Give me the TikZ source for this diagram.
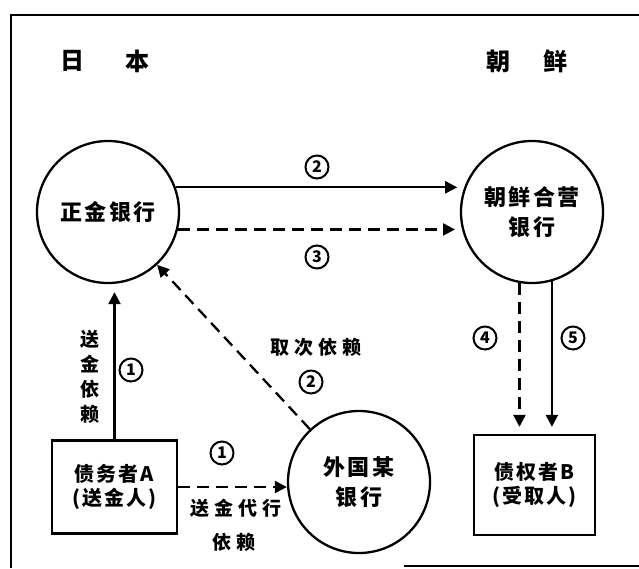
\documentclass[tikz,border=0pt]{standalone}
\usepackage{fontspec}
\setmainfont{Noto Sans CJK SC}
\usetikzlibrary{arrows.meta}
\newcommand{\fz}[2]{\fontsize{#1}{#2}\selectfont\bfseries}
\begin{document}
\begin{tikzpicture}[x=1pt,y=-1pt,line width=2.3pt,
  circ/.style={circle,draw,minimum size=142pt,inner sep=0pt,align=center,
    font=\fz{22}{30}\addfontfeatures{LetterSpace=12}},
  bx/.style={draw,inner sep=0pt,align=center,
    font=\fz{20}{24}\addfontfeatures{LetterSpace=10}},
  lbl/.style={inner sep=0pt,align=center,font=\fz{19}{25}\addfontfeatures{LetterSpace=28}},
  ttl/.style={inner sep=0pt,font=\fz{24}{24}},
  num/.style={circle,draw,line width=2pt,minimum size=23pt,inner sep=0pt,font=\fz{16}{16}},
  arr/.style={-{Triangle[length=12pt,width=12pt]}},
  dsh/.style={arr,dash pattern=on 12pt off 7pt}]
\useasboundingbox (0,0) rectangle (639,568);
% frame
\draw (639,15) -- (11,15) -- (11,568);
\draw (404,566) -- (639,566);
% titles
\node[ttl] (t1) at (72,61) {日};
\node[ttl] (t2) at (137,61) {本};
\node[ttl] (t3) at (498,61) {朝};
\node[ttl] (t4) at (555,61) {鲜};
% main nodes
\node[circ] (zj) at (108,212) {正金银行};
\node[circ] (cx) at (532,212) {朝鲜合营\\银行};
\node[circ] (wg) at (359,482) {外国某\\银行};
\node[bx,minimum width=125pt,minimum height=93pt] (A) at (114.5,487) {债务者A\\(送金人)};
\node[bx,minimum width=121pt,minimum height=100pt] (B) at (534.5,485) {债权者B\\(受取人)};
% connectors
\draw[arr,shorten >=7pt] (zj.20) -- (cx.160);
\draw[dsh,shorten >=7pt] (zj.-14) -- (cx.194);
\draw[arr,shorten >=8pt] (A.north) -- (A.north |- zj.south);
\draw[dsh] (A.east) -- (A.east -| wg.west);
\draw[dsh] (wg) -- (zj);
\draw[dsh,shorten >=7pt] (cx.260) -- (cx.260 |- B.north);
\draw[arr,shorten >=7pt] (cx.-74) -- (cx.-74 |- B.north);
% labels
\node[lbl] (l1) at (90,377) {送\\金\\依\\赖};
\node[num] (n1) at (131,370) {1};
\node[num] (n2) at (222,453) {1};
\node[lbl] (l2) at (236,508) {送金代行};
\node[lbl] (l3) at (234,542) {依赖};
\node[lbl] (l4) at (316,347) {取次依赖};
\node[num] (n3) at (311,382) {2};
\node[num] (n4) at (317,167) {2};
\node[num] (n5) at (317,257) {3};
\node[num] (n6) at (485,338) {4};
\node[num] (n7) at (573,338) {5};
\end{tikzpicture}
\end{document}
